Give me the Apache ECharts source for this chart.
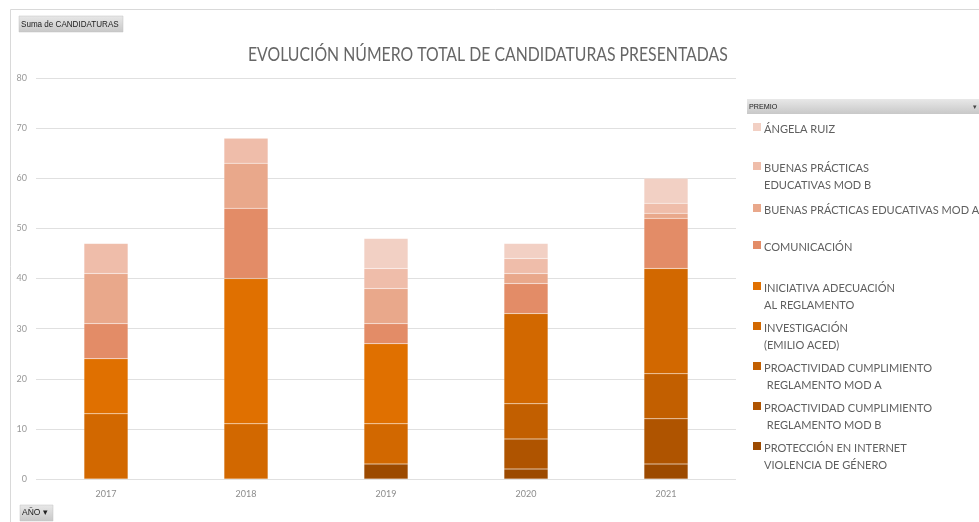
<!DOCTYPE html>
<html><head><meta charset="utf-8">
<script src="https://cdn.jsdelivr.net/npm/echarts@6/dist/echarts.min.js"></script>
<style>html,body{margin:0;padding:0;background:#fff}#c{width:979px;height:522px}</style>
</head><body><div id="c"></div>
<script>
const titleText = 'EVOLUCIÓN NÚMERO TOTAL DE CANDIDATURAS PRESENTADAS';
const years = ['2017','2018','2019','2020','2021'];
const yTicks = [0,10,20,30,40,50,60,70,80];
// stack order bottom -> top
const seriesNames = [
  'PROTECCIÓN EN INTERNET\nVIOLENCIA DE GÉNERO',
  'PROACTIVIDAD CUMPLIMIENTO\n REGLAMENTO MOD B',
  'PROACTIVIDAD CUMPLIMIENTO\n REGLAMENTO MOD A',
  'INVESTIGACIÓN\n(EMILIO ACED)',
  'INICIATIVA ADECUACIÓN\nAL REGLAMENTO',
  'COMUNICACIÓN',
  'BUENAS PRÁCTICAS EDUCATIVAS MOD A',
  'BUENAS PRÁCTICAS\nEDUCATIVAS MOD B',
  'ÁNGELA RUIZ'
];
const proteccion     = [0, 0, 3, 2, 3];
const proactividadB  = [0, 0, 0, 6, 9];
const proactividadA  = [0, 0, 0, 7, 9];
const investigacion  = [13, 11, 8, 18, 21];
const iniciativa     = [11, 29, 16, 0, 0];
const comunicacion   = [7, 14, 4, 6, 10];
const buenasA        = [10, 9, 7, 2, 1];
const buenasB        = [6, 5, 4, 3, 2];
const angela         = [0, 0, 6, 3, 5];
const seriesValues = [proteccion, proactividadB, proactividadA, investigacion, iniciativa, comunicacion, buenasA, buenasB, angela];
const colors = ['#9C4A00','#AF5400','#C25F00','#D26800','#E07000','#E38C67','#E9A88B','#EFBDAA','#F2D0C4'];
const legendY = [446, 406, 366, 326, 286, 245, 208, 166, 127];

const chart = echarts.init(document.getElementById('c'));
const series = seriesNames.map((n,i)=>({
  name:n, type:'bar', stack:'t', barWidth:44,
  data: seriesValues[i].map(v=> v===0? null : v),
  itemStyle:{color:colors[i], borderColor:'rgba(255,255,255,0.25)', borderWidth:0.5},
  emphasis:{disabled:true}
}));

const grad = ()=> new echarts.graphic.LinearGradient(0,0,0,1,[{offset:0,color:'#e8e8e8'},{offset:1,color:'#c8c8c8'}]);
const graphic = [
  {type:'rect', shape:{x:10.5,y:9.5,width:980,height:520}, style:{fill:'none',stroke:'#d9d9d9',lineWidth:1}, silent:true},
  {type:'text', x:248, y:55, scaleX:0.79, style:{text:titleText, font:'20px Lato, sans-serif', fill:'#666666', verticalAlign:'middle'}},
  {type:'rect', shape:{x:19,y:16,width:104,height:16}, style:{fill:grad(), stroke:'#c0c0c0', lineWidth:0.5}},
  {type:'text', x:21, y:24, scaleX:0.85, style:{text:'Suma de CANDIDATURAS', font:'9.5px "Liberation Sans", sans-serif', fill:'#222', verticalAlign:'middle'}},
  {type:'rect', shape:{x:20,y:505,width:33,height:16}, style:{fill:grad(), stroke:'#c0c0c0', lineWidth:0.5}},
  {type:'text', x:22, y:513, style:{text:'AÑO ▾', font:'8.5px "Liberation Sans", sans-serif', fill:'#222', verticalAlign:'middle'}},
  {type:'rect', shape:{x:747,y:99,width:240,height:15}, style:{fill:grad()}},
  {type:'text', x:749, y:107, scaleX:0.9, style:{text:'PREMIO', font:'8px "Liberation Sans", sans-serif', fill:'#222', verticalAlign:'middle'}},
  {type:'text', x:973, y:107, style:{text:'▾', font:'7px sans-serif', fill:'#444', verticalAlign:'middle'}}
];
seriesNames.forEach((n,i)=>{
  graphic.push({type:'rect', shape:{x:753,y:legendY[i]-4,width:8,height:8}, style:{fill:colors[i]}});
  graphic.push({type:'text', x:764, y:legendY[i]-7, scaleX:0.92, style:{text:n, font:'12px Lato, sans-serif', fill:'#5f5f5f', lineHeight:17.5, verticalAlign:'top'}});
});

chart.setOption({
  animation:false,
  grid:{left:36, right:243, top:78, bottom:43, containLabel:false},
  xAxis:{type:'category', data:years, axisLine:{show:false}, axisTick:{show:false},
    axisLabel:{color:'#8c8c8c', fontSize:9, fontFamily:'Lato', margin:11}},
  yAxis:{type:'value', min:0, max:80, interval:10, axisLine:{show:false}, axisTick:{show:false},
    axisLabel:{color:'#999999', fontSize:9, fontFamily:'Lato', margin:9, formatter:v=> yTicks.includes(v)? String(v):''},
    splitLine:{lineStyle:{color:'#e0e0e0', width:1}}},
  series: series,
  graphic: graphic
});
</script></body></html>
